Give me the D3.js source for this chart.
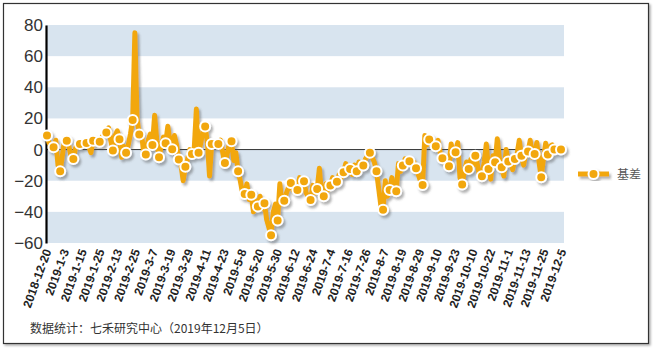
<!DOCTYPE html>
<html><head><meta charset="utf-8">
<script src="https://cdn.jsdelivr.net/npm/d3@7/dist/d3.min.js"></script>
<style>body{margin:0;background:#fff}svg{display:block}</style>
</head><body>
<svg id="c" width="653" height="349"></svg>
<script>
const seriesName = "基差";
const dateLabels = ["2018-12-20","2019-1-3","2019-1-15","2019-1-25","2019-2-13","2019-2-25","2019-3-7","2019-3-19","2019-3-29","2019-4-11","2019-4-23","2019-5-8","2019-5-20","2019-5-30","2019-6-12","2019-6-24","2019-7-4","2019-7-16","2019-7-26","2019-8-7","2019-8-19","2019-8-29","2019-9-10","2019-9-23","2019-10-10","2019-10-22","2019-11-1","2019-11-13","2019-11-25","2019-12-5"];
const yTicks = [-60,-40,-20,0,20,40,60,80];
const basis = [
 9,4,3, 1.5,6,-10, -14,-4,7, 5.6,2,-5, -6,1,4, 3.6,3,5, 4.3,2,-2, 5.6,4,6, 5,8,10, 11,14,6,
 -0.6,9,12, 6.6,-5,2, -2,3,10, 19,75,20, 9.6,11,-2, -3.2,6,10, 3,22,6, -5,2,8, 4,15,5, 0.2,9,3,
 -6.4,-10,-20, -11,-6,0, -2.8,0,26, -2,4,12, 14.8,5,-17, 3.6,4,5, 3.6,6,-2, -8.6,-3,4, 5.4,-7,-2, -14,-20,-28,
 -28.5,-22,-32, -29,-40,-33, -36.6,-30,-38, -34.5,-45,-50, -55,-40,-35, -45.6,-22,-35, -32.8,-28,-24, -21.4,-26,-22, -26,-18,-22, -20.4,-28,-30,
 -32.4,-23,-28, -25.3,-12,-28, -30,-22,-26, -23,-18,-22, -20.6,-16,-18, -14.6,-9,-14, -12.4,-16,-10, -14,-8,-12, -10.3,-6,-4, -2,-5,-8,
 -13.9,-25,-36, -38.6,-20,-30, -26,-18,-28, -26.8,-9,-14, -10.3,-6,-9, -7.5,-10,-8, -12,-16,-20, -22.7,9,3, 6.4,5,4, 2.1,6,-2,
 -5.6,-8,-12, -10.7,3.6,-4, -1.7,4.5,-18, -22.5,-14,-8, -12.4,-6,-10, -3.9,-10,-18, -17.2,-8,3.6, -12.4,-19,-4, -8.2,7,-6, -11.4,-17,0,
 -7.7,-6,-13, -6,-3,6, -3.9,-10,-2, -1.3,6,-5, -2.8,4.5,-8, -17.8,-6,4, -3.2,2,3, 0,1,0, 0
];
const markerEvery = 3;
const footnote = "数据统计：七禾研究中心（2019年12月5日）";

const svg = d3.select("#c");
const defs = svg.append("defs");
const f = defs.append("filter").attr("id","sh").attr("x","-20%").attr("y","-20%").attr("width","140%").attr("height","140%");
f.append("feDropShadow").attr("dx",2).attr("dy",2.5).attr("stdDeviation",1.2).attr("flood-color","#555").attr("flood-opacity",0.45);
const fb = defs.append("filter").attr("id","bsh").attr("x","-5%").attr("y","-5%").attr("width","110%").attr("height","110%");
fb.append("feDropShadow").attr("dx",1.5).attr("dy",1.5).attr("stdDeviation",0.8).attr("flood-color","#000").attr("flood-opacity",0.35);

svg.append("rect").attr("x",3.5).attr("y",3.5).attr("width",645).attr("height",340)
  .attr("fill","#fff").attr("stroke","#333").attr("stroke-width",1.2).attr("filter","url(#bsh)");

const X0 = 46, X1 = 564;
const y = d3.scaleLinear().domain([-60,80]).range([243,25]);
const x = d3.scaleLinear().domain([0, basis.length-1]).range([47,561]);
const xl = d3.scalePoint().domain(dateLabels).range([47,562]);

// bands
const bandPairs = [[60,80],[20,40],[-20,0],[-60,-40]];
svg.append("g").selectAll("rect").data(bandPairs).join("rect")
  .attr("x",X0).attr("width",X1-X0)
  .attr("y",d=>y(d[1])).attr("height",d=>y(d[0])-y(d[1]))
  .attr("fill","#d8e4ef");

// zero line
svg.append("line").attr("x1",X0).attr("x2",X1).attr("y1",y(0)).attr("y2",y(0))
  .attr("stroke","#333").attr("stroke-width",1);

// y axis
const yAxis = svg.append("g").attr("transform",`translate(${X0},0)`)
  .call(d3.axisLeft(y).tickValues(yTicks).tickSize(0).tickPadding(3));
yAxis.select(".domain").attr("stroke","#000").attr("stroke-width",2.2);
yAxis.selectAll("text").attr("font-family","Liberation Sans, Arial, sans-serif")
  .attr("font-size",17).attr("fill","#333");

// x labels
const xAxis = svg.append("g").attr("transform",`translate(0,${y(-60)})`)
  .call(d3.axisBottom(xl).tickSize(0).tickPadding(0));
xAxis.select(".domain").remove();
xAxis.selectAll("text")
  .attr("font-family","Liberation Sans, Arial, sans-serif").attr("font-size",12)
  .attr("fill","#222").attr("font-weight","bold")
  .attr("text-anchor","end").attr("dy",0).attr("y",0)
  .attr("transform","translate(4,8) rotate(-70)");

// line
const line = d3.line().x((d,i)=>x(i)).y(d=>y(d));
const g = svg.append("g").attr("filter","url(#sh)");
g.append("path").datum(basis).attr("d",line).attr("fill","none")
  .attr("stroke","#f2a70f").attr("stroke-width",5).attr("stroke-linejoin","round").attr("stroke-linecap","round");
const mk = basis.map((v,i)=>({v,i})).filter(d=>d.i%markerEvery===0);
g.selectAll("circle").data(mk).join("circle")
  .attr("cx",d=>x(d.i)).attr("cy",d=>y(d.v)).attr("r",5)
  .attr("fill","#f2a70f").attr("stroke","#fff").attr("stroke-width",2);

// legend
const lg = svg.append("g").attr("transform","translate(578,174)");
const lgi = lg.append("g").attr("filter","url(#sh)");
lgi.append("line").attr("x1",0).attr("x2",31).attr("y1",0).attr("y2",0)
  .attr("stroke","#f2a70f").attr("stroke-width",5);
lgi.append("circle").attr("cx",15.5).attr("cy",0).attr("r",5)
  .attr("fill","#f2a70f").attr("stroke","#fff").attr("stroke-width",2);
lg.append("text").attr("x",39).attr("y",4.5).text(seriesName)
  .attr("font-family","Noto Sans CJK SC, sans-serif").attr("font-size",12).attr("fill","#555");

// footnote
svg.append("text").attr("x",30).attr("y",333).text(footnote)
  .attr("font-family","Noto Sans CJK SC, sans-serif").attr("font-size",12).attr("fill","#333");
</script>
</body></html>
